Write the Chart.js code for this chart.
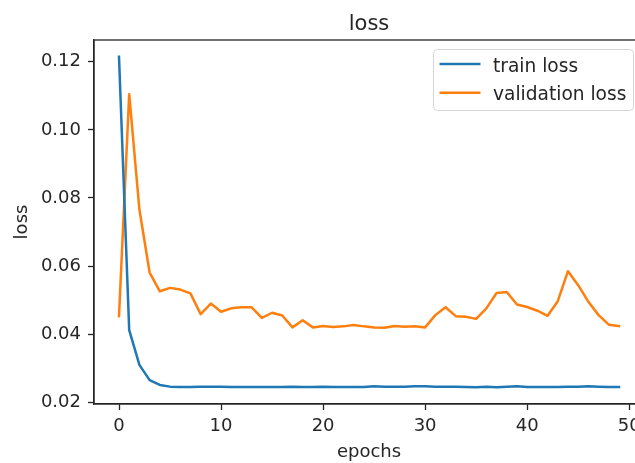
<!DOCTYPE html>
<html>
<head>
<meta charset="utf-8">
<script src="https://cdn.jsdelivr.net/npm/chart.js@4/dist/chart.umd.min.js"></script>
<style>
html, body { margin: 0; padding: 0; overflow: hidden; background: #ffffff; }
canvas { display: block; }
</style>
</head>
<body>
<canvas id="c" width="660" height="463"></canvas>
<script>
const epochs = [0,1,2,3,4,5,6,7,8,9,10,11,12,13,14,15,16,17,18,19,20,21,22,23,24,25,26,27,28,29,30,31,32,33,34,35,36,37,38,39,40,41,42,43,44,45,46,47,48,49];
const trainLoss = [0.1215,0.0412,0.0310,0.0265,0.0251,0.0246,0.0245,0.0245,0.0246,0.0246,
  0.0246,0.0245,0.0245,0.0245,0.0245,0.0245,0.0245,0.0246,0.0245,0.0245,
  0.0246,0.0245,0.0245,0.0245,0.0245,0.0247,0.0246,0.0246,0.0246,0.0247,
  0.0247,0.0246,0.0246,0.0246,0.0245,0.0244,0.0246,0.0244,0.0246,0.0247,
  0.0245,0.0245,0.0245,0.0245,0.0246,0.0246,0.0247,0.0246,0.0245,0.0245];
const valLoss = [0.0453,0.1105,0.0766,0.0581,0.0526,0.0536,0.0531,0.0520,0.0459,0.0490,
  0.0466,0.0476,0.0479,0.0479,0.0448,0.0463,0.0455,0.0420,0.0441,0.0420,
  0.0424,0.0421,0.0423,0.0427,0.0423,0.0420,0.0419,0.0424,0.0422,0.0423,
  0.0420,0.0456,0.0479,0.0453,0.0451,0.0445,0.0476,0.0521,0.0524,0.0487,
  0.0480,0.0469,0.0454,0.0497,0.0585,0.0544,0.0495,0.0456,0.0428,0.0424];
const xTicks = [0,10,20,30,40,50];
const yTicks = [0.02,0.04,0.06,0.08,0.10,0.12];
const seriesNames = ['train loss','validation loss'];
const titleText = 'loss';
const xTitle = 'epochs';
const yTitle = 'loss';

const FONT = 'DejaVu Sans';
const TXT = '#262626';
const AX = '#262626';
const FS = 18;

const framePlugin = {
  id: 'frame',
  afterDatasetsDraw(chart) {
    const {ctx, chartArea: a} = chart;
    ctx.save();
    ctx.strokeStyle = AX;
    ctx.lineWidth = 1.3;
    ctx.strokeRect(a.left, a.top, a.right - a.left, a.bottom - a.top);
    ctx.restore();
  }
};

const titlePlugin = {
  id: 'mpltitle',
  afterDraw(chart) {
    const {ctx, chartArea: a} = chart;
    ctx.save();
    ctx.fillStyle = TXT;
    ctx.font = '21px "' + FONT + '"';
    ctx.textAlign = 'center';
    ctx.textBaseline = 'alphabetic';
    ctx.fillText(titleText, (a.left + a.right) / 2, 29.5);
    ctx.restore();
  }
};

const legendPlugin = {
  id: 'mpllegend',
  afterDraw(chart) {
    const {ctx} = chart;
    const x = 433.5, y = 49.5, w = 200, h = 61, r = 4;
    ctx.save();
    ctx.beginPath();
    ctx.moveTo(x + r, y);
    ctx.lineTo(x + w - r, y);
    ctx.quadraticCurveTo(x + w, y, x + w, y + r);
    ctx.lineTo(x + w, y + h - r);
    ctx.quadraticCurveTo(x + w, y + h, x + w - r, y + h);
    ctx.lineTo(x + r, y + h);
    ctx.quadraticCurveTo(x, y + h, x, y + h - r);
    ctx.lineTo(x, y + r);
    ctx.quadraticCurveTo(x, y, x + r, y);
    ctx.closePath();
    ctx.fillStyle = 'rgba(255,255,255,0.8)';
    ctx.fill();
    ctx.strokeStyle = '#d6d6d6';
    ctx.lineWidth = 1;
    ctx.stroke();
    const rows = [64, 92.7];
    chart.data.datasets.forEach((ds, i) => {
      ctx.beginPath();
      ctx.strokeStyle = ds.borderColor;
      ctx.lineWidth = 2.5;
      ctx.lineCap = 'butt';
      ctx.moveTo(439.5, rows[i]);
      ctx.lineTo(480.5, rows[i]);
      ctx.stroke();
      ctx.fillStyle = TXT;
      ctx.font = '18.6px "' + FONT + '"';
      ctx.textAlign = 'left';
      ctx.textBaseline = 'alphabetic';
      ctx.fillText(ds.label, 493, rows[i] + 7.5);
    });
    ctx.restore();
  }
};

new Chart(document.getElementById('c'), {
  type: 'line',
  data: {
    datasets: [
      {
        label: seriesNames[0],
        data: epochs.map((e, i) => ({x: e, y: trainLoss[i]})),
        borderColor: '#1f77b4',
        backgroundColor: '#1f77b4'
      },
      {
        label: seriesNames[1],
        data: epochs.map((e, i) => ({x: e, y: valLoss[i]})),
        borderColor: '#ff7f0e',
        backgroundColor: '#ff7f0e'
      }
    ]
  },
  options: {
    responsive: false,
    animation: false,
    devicePixelRatio: 1,
    events: [],
    layout: { padding: { left: 0, top: 40, right: 16, bottom: 0 } },
    elements: {
      point: { radius: 0, hoverRadius: 0 },
      line: { tension: 0, borderWidth: 2.5, borderCapStyle: 'square', borderJoinStyle: 'round', fill: false }
    },
    plugins: {
      legend: { display: false },
      title: { display: false },
      tooltip: { enabled: false }
    },
    scales: {
      x: {
        type: 'linear',
        min: -2.45,
        max: 51.45,
        afterBuildTicks(s) { s.ticks = xTicks.map(v => ({value: v})); },
        afterFit(s) { s.height = 59; },
        grid: { display: true, drawOnChartArea: false, drawTicks: true, tickLength: 6, tickWidth: 1.3, tickColor: AX },
        border: { display: true, color: AX, width: 1.3 },
        ticks: {
          color: TXT,
          font: { family: FONT, size: FS },
          padding: 6,
          maxRotation: 0,
          autoSkip: false,
          callback: v => String(v)
        },
        title: {
          display: true,
          text: xTitle,
          color: TXT,
          font: { family: FONT, size: FS },
          padding: { top: 0, bottom: 0 }
        }
      },
      y: {
        type: 'linear',
        min: 0.0195,
        max: 0.1264,
        afterBuildTicks(s) { s.ticks = yTicks.map(v => ({value: v})); },
        afterFit(s) { s.width = 94; },
        grid: { display: true, drawOnChartArea: false, drawTicks: true, tickLength: 6, tickWidth: 1.3, tickColor: AX },
        border: { display: true, color: AX, width: 1.3 },
        ticks: {
          color: TXT,
          font: { family: FONT, size: FS },
          padding: 7,
          autoSkip: false,
          callback: v => Number(v).toFixed(2)
        },
        title: {
          display: true,
          text: yTitle,
          color: TXT,
          font: { family: FONT, size: FS },
          padding: { top: 12, bottom: 0 }
        }
      }
    }
  },
  plugins: [framePlugin, titlePlugin, legendPlugin]
});
</script>
</body>
</html>
